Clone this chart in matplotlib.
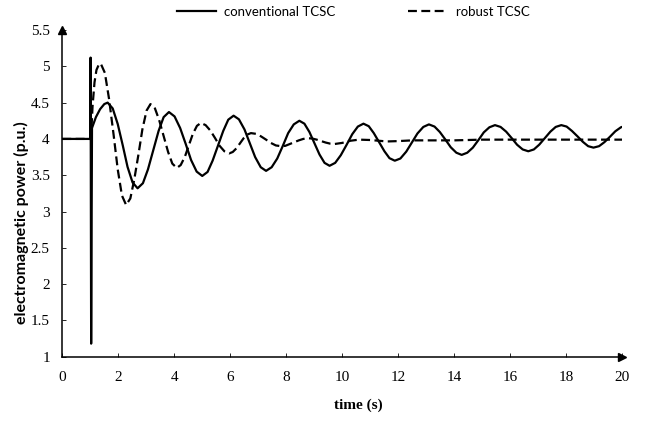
import matplotlib
matplotlib.use('Agg')
import matplotlib.pyplot as plt

# conventional TCSC response
conv_t = [0, 1.0, 1.01, 1.03, 1.06, 1.2, 1.35, 1.5, 1.62,
          1.80, 1.98, 2.16, 2.33, 2.51, 2.69,
          2.88, 3.06, 3.25, 3.44, 3.62, 3.81,
          4.01, 4.21, 4.41, 4.60, 4.80, 5.0,
          5.19, 5.37, 5.56, 5.75, 5.93, 6.12,
          6.31, 6.51, 6.70, 6.89, 7.09, 7.28,
          7.48, 7.68, 7.88, 8.07, 8.27, 8.47,
          8.65, 8.83, 9.01, 9.19, 9.37, 9.55,
          9.75, 9.95, 10.16, 10.36, 10.56, 10.76,
          10.95, 11.13, 11.32, 11.51, 11.69, 11.88,
          12.08, 12.29, 12.49, 12.69, 12.90, 13.1,
          13.30, 13.49, 13.69, 13.88, 14.08, 14.27,
          14.47, 14.67, 14.87, 15.06, 15.26, 15.46,
          15.66, 15.86, 16.06, 16.25, 16.45, 16.65,
          16.85, 17.04, 17.24, 17.44, 17.63, 17.83,
          18.02, 18.21, 18.41, 18.60, 18.79, 18.98,
          19.18, 19.37, 19.57, 19.76, 19.96, 20.0]
conv_y = [4.0, 4.0, 5.12, 1.18, 4.15, 4.30, 4.41, 4.48, 4.50,
          4.42, 4.205, 3.91, 3.615, 3.40, 3.32,
          3.39, 3.58, 3.845, 4.11, 4.30, 4.37,
          4.31, 4.15, 3.93, 3.71, 3.55, 3.49,
          3.545, 3.70, 3.905, 4.11, 4.265, 4.32,
          4.27, 4.13, 3.94, 3.75, 3.61, 3.56,
          3.61, 3.73, 3.905, 4.08, 4.20, 4.25,
          4.21, 4.095, 3.94, 3.785, 3.67, 3.63,
          3.67, 3.775, 3.92, 4.065, 4.17, 4.21,
          4.175, 4.08, 3.955, 3.83, 3.735, 3.70,
          3.73, 3.825, 3.95, 4.075, 4.165, 4.20,
          4.17, 4.095, 3.99, 3.885, 3.81, 3.78,
          3.81, 3.88, 3.985, 4.09, 4.16, 4.19,
          4.165, 4.10, 4.01, 3.92, 3.855, 3.83,
          3.855, 3.92, 4.01, 4.10, 4.165, 4.19,
          4.17, 4.11, 4.035, 3.96, 3.90, 3.88,
          3.90, 3.955, 4.03, 4.105, 4.16, 4.165]

# robust TCSC response
rob_t = [0, 1.0, 1.03, 1.08, 1.15, 1.22, 1.30, 1.37,
         1.52, 1.67, 1.83, 1.98, 2.13, 2.28,
         2.43, 2.57, 2.72, 2.86, 3.01, 3.15,
         3.31, 3.46, 3.62, 3.78, 3.93, 4.09,
         4.23, 4.38, 4.52, 4.66, 4.81, 4.95,
         5.12, 5.29, 5.46, 5.62, 5.79, 5.96,
         6.09, 6.22, 6.35, 6.48, 6.61, 6.74,
         6.92, 7.10, 7.28, 7.45, 7.63, 7.81,
         7.97, 8.13, 8.29, 8.45, 8.61, 8.77,
         8.93, 9.09, 9.25, 9.41, 9.57, 9.73,
         10.0, 10.3, 10.6, 11.0, 11.3, 11.6, 12.0, 12.5, 13.0,
         14.0, 15.0, 16.0, 18.0, 20.0]
rob_y = [4.0, 4.0, 4.05, 4.45, 4.78, 4.95, 5.02, 5.04,
         4.91, 4.55, 4.065, 3.58, 3.22, 3.09,
         3.18, 3.44, 3.785, 4.13, 4.39, 4.48,
         4.42, 4.26, 4.04, 3.82, 3.66, 3.60,
         3.64, 3.755, 3.91, 4.065, 4.18, 4.22,
         4.19, 4.115, 4.01, 3.905, 3.83, 3.80,
         3.82, 3.87, 3.94, 4.01, 4.06, 4.08,
         4.07, 4.035, 3.99, 3.945, 3.91, 3.90,
         3.905, 3.93, 3.955, 3.98, 4.0, 4.01,
         4.005, 3.99, 3.97, 3.95, 3.935, 3.93,
         3.945, 3.975, 3.99, 3.985, 3.975, 3.965, 3.97, 3.98, 3.98,
         3.98, 3.99, 3.99, 3.99, 3.99]

x_ticks = [0, 2, 4, 6, 8, 10, 12, 14, 16, 18, 20]
x_labels = ['0', '2', '4', '6', '8', '10', '12', '14', '16', '18', '20']
y_ticks = [1, 1.5, 2, 2.5, 3, 3.5, 4, 4.5, 5, 5.5]
y_labels = ['1', '1.5', '2', '2.5', '3', '3.5', '4', '4.5', '5', '5.5']

sans = ['Lato', 'DejaVu Sans']
serif = ['Liberation Serif', 'DejaVu Serif']
plt.rcParams['font.family'] = serif

fig = plt.figure(figsize=(6.54, 4.21), dpi=100)
ax = fig.add_axes([0.0953, 0.1527, 0.8558, 0.776])

ax.plot(rob_t, rob_y, color='black', lw=1.6, linestyle=(0, (4, 2)), label='robust TCSC')
ax.plot(conv_t, conv_y, color='black', lw=1.6, label='conventional TCSC')

ax.set_xlim(0, 20)
ax.set_ylim(1, 5.5)
ax.set_xticks(x_ticks)
ax.set_xticklabels(x_labels, fontfamily='Liberation Serif', fontsize=11)
ax.set_yticks(y_ticks)
ax.set_yticklabels(y_labels, fontfamily='Liberation Serif', fontsize=11)
ax.tick_params(direction='in', length=3, width=0.6)
ax.tick_params(axis='x', pad=10)
ax.tick_params(axis='y', pad=9)

ax.spines['top'].set_visible(False)
ax.spines['right'].set_visible(False)
ax.spines['left'].set_linewidth(1.1)
ax.spines['bottom'].set_linewidth(1.1)

# arrow heads on the axes
ax.plot(1, 0, '>k', markersize=6, transform=ax.transAxes, clip_on=False)
ax.plot(0, 1, '^k', markersize=6, transform=ax.transAxes, clip_on=False)

fig.text(21 / 654, 1 - 223 / 421, 'electromagnetic power (p.u.)', rotation=90,
         ha='center', va='center', fontsize=11.5, fontweight='bold', family=sans)
fig.text(358 / 654, 1 - 405 / 421, 'time (s)', ha='center', va='center',
         fontsize=11, fontweight='bold')

handles, labels = ax.get_legend_handles_labels()
leg = fig.legend(handles[::-1], labels[::-1], loc='center', ncol=2, frameon=False,
                 bbox_to_anchor=(353 / 654, 1 - 12 / 421), handlelength=3.0,
                 handletextpad=0.6, columnspacing=5.5,
                 prop={'family': sans, 'size': 9.5})

fig.savefig('out.png', dpi=100)
